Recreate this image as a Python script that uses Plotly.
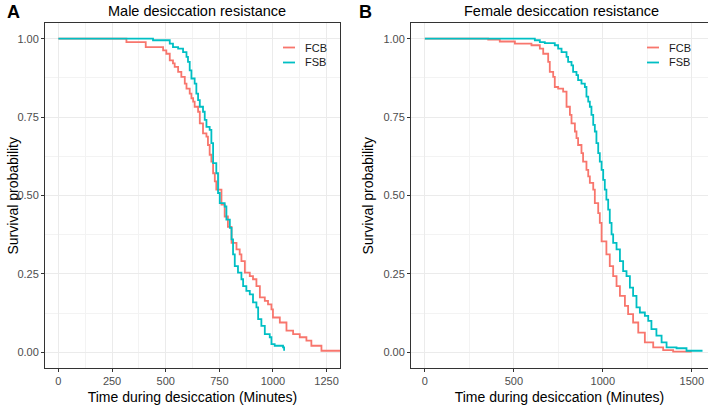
import plotly.graph_objects as go

# ---------------- data ----------------
groups = ["FCB", "FSB"]
colors = {"FCB": "#F8766D", "FSB": "#00BFC4"}

male_fcb_time = [0, 317, 407, 488, 503, 519, 534, 542, 558, 573, 589, 597, 612, 620, 628, 635,
                 651, 659, 674, 690, 697, 705, 713, 721, 729, 736, 760, 775, 790, 807, 830, 845,
                 853, 869, 892, 907, 923, 939, 962, 977, 993, 1000, 1032, 1063, 1094, 1125,
                 1156, 1179, 1226, 1330]
male_fcb_surv = [1.0, 0.989, 0.973, 0.963, 0.952, 0.931, 0.921, 0.910, 0.894, 0.878, 0.857, 0.841,
                 0.825, 0.810, 0.799, 0.783, 0.767, 0.730, 0.698, 0.688, 0.661, 0.630, 0.608,
                 0.571, 0.545, 0.519, 0.471, 0.433, 0.400, 0.349, 0.328, 0.312, 0.291, 0.254,
                 0.243, 0.233, 0.211, 0.175, 0.164, 0.153, 0.137, 0.111, 0.095, 0.069, 0.058,
                 0.048, 0.037, 0.021, 0.005, 0.005]

male_fsb_time = [0, 441, 519, 534, 558, 581, 597, 604, 612, 620, 635, 643, 651, 659, 674, 682,
                 690, 705, 713, 721, 736, 744, 752, 775, 783, 799, 807, 814, 822, 837, 853, 861,
                 876, 892, 907, 923, 931, 946, 962, 985, 993, 1008, 1047, 1052]
male_fsb_surv = [1.0, 0.995, 0.984, 0.973, 0.968, 0.957, 0.942, 0.926, 0.899, 0.873, 0.857, 0.825,
                 0.804, 0.783, 0.767, 0.741, 0.719, 0.709, 0.667, 0.603, 0.571, 0.508, 0.476,
                 0.465, 0.423, 0.397, 0.360, 0.312, 0.275, 0.254, 0.233, 0.211, 0.196, 0.185,
                 0.159, 0.143, 0.106, 0.084, 0.058, 0.048, 0.026, 0.021, 0.016, 0.005]

female_fcb_time = [0, 356, 421, 506, 599, 646, 665, 693, 702, 721, 730, 749, 777, 796, 815, 824,
                   843, 852, 861, 880, 889, 908, 918, 927, 946, 955, 974, 983, 993, 1020, 1039,
                   1058, 1077, 1096, 1124, 1142, 1170, 1199, 1236, 1283, 1339, 1395, 1500]
female_fcb_surv = [1.0, 0.997, 0.991, 0.984, 0.979, 0.968, 0.952, 0.926, 0.894, 0.878, 0.846,
                   0.841, 0.831, 0.783, 0.757, 0.730, 0.704, 0.683, 0.661, 0.635, 0.608, 0.582,
                   0.561, 0.540, 0.519, 0.476, 0.444, 0.413, 0.354, 0.312, 0.275, 0.243, 0.211,
                   0.180, 0.148, 0.122, 0.095, 0.063, 0.032, 0.016, 0.007, 0.002, 0.002]

female_fsb_time = [0, 618, 646, 674, 730, 749, 768, 796, 805, 824, 833, 852, 861, 880, 899, 908,
                   918, 927, 936, 946, 955, 964, 974, 983, 993, 1002, 1011, 1020, 1030, 1039,
                   1049, 1058, 1077, 1096, 1114, 1133, 1152, 1170, 1189, 1208, 1236, 1255, 1273,
                   1301, 1330, 1358, 1414, 1470, 1560]
female_fsb_surv = [1.0, 0.995, 0.989, 0.986, 0.979, 0.968, 0.957, 0.942, 0.926, 0.915, 0.894,
                   0.884, 0.868, 0.857, 0.846, 0.815, 0.799, 0.783, 0.757, 0.725, 0.704, 0.667,
                   0.635, 0.608, 0.582, 0.550, 0.519, 0.487, 0.455, 0.413, 0.376, 0.349, 0.328,
                   0.291, 0.259, 0.243, 0.206, 0.180, 0.143, 0.127, 0.116, 0.100, 0.074, 0.053,
                   0.032, 0.016, 0.013, 0.005, 0.005]

titles = ["Male desiccation resistance", "Female desiccation resistance"]
panel_tags = ["A", "B"]
x_title = "Time during desiccation (Minutes)"
y_title = "Survival probability"

# ---------------- figure ----------------
FONT = "Liberation Sans, Arial, Helvetica, sans-serif"
W, H = 708, 406
fig = go.Figure()

panels = [
    ("x", "y", {"FCB": (male_fcb_time, male_fcb_surv), "FSB": (male_fsb_time, male_fsb_surv)}),
    ("x2", "y2", {"FCB": (female_fcb_time, female_fcb_surv), "FSB": (female_fsb_time, female_fsb_surv)}),
]
for xa, ya, data in panels:
    for g in groups:
        t, s = data[g]
        fig.add_trace(go.Scatter(
            x=t, y=s, mode="lines", name=g,
            line=dict(color=colors[g], width=1.8, shape="hv"),
            xaxis=xa, yaxis=ya, showlegend=False, hoverinfo="skip",
        ))

ydom = [(406 - 368) / H, (406 - 23) / H]
grid_major = "#EBEBEB"
grid_minor = "#F3F3F3"
border = "#333333"
tickfont = dict(family=FONT, size=11, color="#4D4D4D")
titlefont = dict(family=FONT, size=14, color="#000000")

def xaxis_cfg(domain, rng, dtick, anchor, mirror=True):
    return dict(
        domain=domain, range=rng, tick0=0, dtick=dtick, anchor=anchor,
        showgrid=True, gridcolor=grid_major, gridwidth=1,
        minor=dict(dtick=dtick / 2, tick0=0, showgrid=True, gridcolor=grid_minor, gridwidth=0.6, ticks=""),
        zeroline=False, showline=True, linecolor=border, linewidth=1, mirror=mirror,
        ticks="outside", ticklen=3, tickcolor=border, tickwidth=1,
        tickfont=tickfont, title=dict(text=x_title, font=titlefont, standoff=5),
        automargin=False,
    )

def yaxis_cfg(anchor, mirror):
    return dict(
        domain=ydom, range=[-0.05, 1.05], tick0=0, dtick=0.25, tickformat=".2f",
        showgrid=True, gridcolor=grid_major, gridwidth=1,
        minor=dict(dtick=0.125, tick0=0, showgrid=True, gridcolor=grid_minor, gridwidth=0.6, ticks=""),
        zeroline=False, showline=True, linecolor=border, linewidth=1, mirror=mirror,
        ticks="outside", ticklen=3, tickcolor=border, tickwidth=1,
        tickfont=tickfont, anchor=anchor, automargin=False,
    )

x1 = xaxis_cfg([45 / W, 340 / W], [-62.5, 1312.5], 250, "y")
x2 = xaxis_cfg([411 / W, 1.0], [-77.75, 1590.8], 500, "y2")
y1 = yaxis_cfg("x", True)
y2 = yaxis_cfg("x2", False)

ymid = 1 - ((23 + 368) / 2) / H
annotations = [
    dict(text=titles[0], x=197 / W, y=1 - 11 / H, xref="paper", yref="paper",
         showarrow=False, font=dict(family=FONT, size=14.5, color="#000000"),
         xanchor="center", yanchor="middle"),
    dict(text=titles[1], x=561 / W, y=1 - 11 / H, xref="paper", yref="paper",
         showarrow=False, font=dict(family=FONT, size=14.5, color="#000000"),
         xanchor="center", yanchor="middle"),
    dict(text="<b>" + panel_tags[0] + "</b>", x=13 / W, y=1 - 12 / H, xref="paper", yref="paper",
         showarrow=False, font=dict(family=FONT, size=18, color="#000000"),
         xanchor="center", yanchor="middle"),
    dict(text="<b>" + panel_tags[1] + "</b>", x=366 / W, y=1 - 12 / H, xref="paper", yref="paper",
         showarrow=False, font=dict(family=FONT, size=18, color="#000000"),
         xanchor="center", yanchor="middle"),
    # y-axis titles
    dict(text=y_title, x=12 / W, y=ymid, xref="paper", yref="paper", textangle=-90,
         showarrow=False, font=titlefont, xanchor="center", yanchor="middle"),
    dict(text=y_title, x=367 / W, y=ymid, xref="paper", yref="paper", textangle=-90,
         showarrow=False, font=titlefont, xanchor="center", yanchor="middle"),
]
shapes = []

# legend keys (one per panel), ggplot style: short line + label
legend_pos = [(283, 303), (647, 667)]   # (key start px, label start px)
legend_rows = [47.5, 62.5]              # row centres px from top
for kx, tx in legend_pos:
    for g, ry in zip(groups, legend_rows):
        shapes.append(dict(type="line", xref="paper", yref="paper",
                           x0=kx / W, x1=(kx + 12) / W, y0=1 - ry / H, y1=1 - ry / H,
                           line=dict(color=colors[g], width=1.8)))
        annotations.append(dict(text=g, x=tx / W, y=1 - ry / H, xref="paper", yref="paper",
                                showarrow=False, xanchor="left", yanchor="middle",
                                font=dict(family=FONT, size=11, color="#1A1A1A")))

fig.update_layout(
    width=W, height=H,
    margin=dict(l=0, r=0, t=0, b=0),
    paper_bgcolor="white", plot_bgcolor="white",
    xaxis=x1, yaxis=y1, xaxis2=x2, yaxis2=y2,
    annotations=annotations, shapes=shapes,
    hovermode=False,
)

fig.write_html(
    "out.html",
    config={"displayModeBar": False},
    post_script="document.body.style.margin='0';document.body.style.overflow='hidden';",
)
